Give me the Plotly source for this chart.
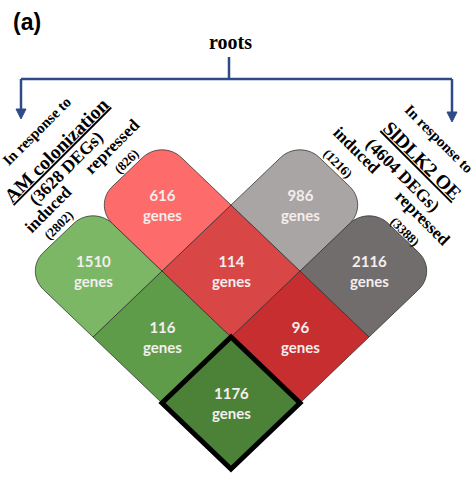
import numpy as np
import plotly.graph_objects as go

# Gene counts for the two responses in roots
am_groups = ["induced", "repressed"]          # AM colonization
am_totals = [2802, 826]
oe_groups = ["repressed", "induced"]          # SlDLK2 overexpression
oe_totals = [3388, 1216]
am_only = [1510, 616]                         # per AM group
oe_only = [2116, 986]                         # per OE group
shared = [[1176, 116],                        # AM induced  x OE (repressed, induced)
          [96, 114]]                          # AM repressed x OE (repressed, induced)

# colours of each tile, keyed by (AM row, OE column); index 2 = only one response
tile_colors = {
    (0, 2): "#7bb765", (0, 1): "#5f9c4a", (0, 0): "#4c8237",
    (1, 2): "#fe6b6b", (1, 1): "#d84646", (1, 0): "#c62e2f",
    (2, 1): "#a9a5a4", (2, 0): "#716d6d",
}

# diamond grid: bottom vertex of the lower tile and half-diagonals in pixels
X0, Y0, HX, HY = 231, 469, 69, 66
RADIUS = 0.28  # rounding of the strip ends, in tile units


def to_xy(u, v):
    return X0 + HX * (u - v), Y0 - HY * (u + v)


def tile_path(a, b, rounded):
    corners = [(a, b), (a + 1, b), (a + 1, b + 1), (a, b + 1)]
    pts = []
    n = len(corners)
    for i, p in enumerate(corners):
        p = np.array(p, float)
        if tuple(corners[i]) in rounded:
            prv = np.array(corners[i - 1], float)
            nxt = np.array(corners[(i + 1) % n], float)
            d1 = (p - prv) / np.linalg.norm(p - prv)
            d2 = (nxt - p) / np.linalg.norm(nxt - p)
            c = p - RADIUS * d1 + RADIUS * d2
            for t in np.linspace(0, np.pi / 2, 14):
                q = c + RADIUS * (-d2 * np.cos(t) + d1 * np.sin(t))
                pts.append(to_xy(*q))
        else:
            pts.append(to_xy(*p))
    return "M " + " L ".join(f"{x:.2f},{y:.2f}" for x, y in pts) + " Z"


tiles = []
for a in range(2):
    for b in range(2):
        tiles.append((a, b, shared[a][b], set()))
    tiles.append((a, 2, am_only[a], {(a, 3), (a + 1, 3)}))
for b in range(2):
    tiles.append((2, b, oe_only[b], {(3, b), (3, b + 1)}))

fig = go.Figure()
shapes = []
annotations = []

for a, b, n, rounded in tiles:
    shapes.append(dict(type="path", path=tile_path(a, b, rounded), xref="x", yref="y",
                       fillcolor=tile_colors[(a, b)],
                       line=dict(color="rgba(45,45,45,0.75)", width=1), layer="below"))
    cx, cy = to_xy(a + 0.5, b + 0.5)
    annotations.append(dict(x=cx, y=cy, xref="x", yref="y", showarrow=False,
                            text=f"<b>{n}<br>genes</b>", align="center",
                            font=dict(family="Lato", size=15, color="#f4eeee")))

# tile shared by AM-induced and OE-repressed genes is outlined
shapes.append(dict(type="path", path=tile_path(0, 0, set()), xref="x", yref="y",
                   line=dict(color="black", width=5), fillcolor="rgba(0,0,0,0)"))

# "roots" bracket with arrows to both responses
navy = "#2f4b87"
shapes += [
    dict(type="path", path="M 229,57 L 229,79 M 21,79 L 452,79 M 21,79 L 21,111 M 452,79 L 452,114",
         xref="x", yref="y", line=dict(color=navy, width=2.5)),
    dict(type="path", path="M 16,109 L 26,109 L 21,119 Z", xref="x", yref="y",
         fillcolor=navy, line=dict(color=navy, width=1)),
    dict(type="path", path="M 447,112 L 457,112 L 452,122 Z", xref="x", yref="y",
         fillcolor=navy, line=dict(color=navy, width=1)),
]

serif = "Liberation Serif"
labels = [
    ("roots", 230, 42, 20, 0),
    ("In response to", 37, 131, 15, -45),
    ("<u>AM colonization</u>", 56, 150, 19.5, -45),
    (f"({sum(am_totals)} DEGs)", 66, 168, 17.5, -45),
    (am_groups[1], 112, 146, 17, -45),
    (f"({am_totals[1]})", 126, 161, 13, -45),
    (am_groups[0], 48, 209, 17, -45),
    (f"({am_totals[0]})", 58, 225, 13, -45),
    ("In response to", 439, 139, 15, 45),
    ("<u>SlDLK2 OE</u>", 422, 160, 19.5, 45),
    (f"({sum(oe_totals)} DEGs)", 403, 175, 17.5, 45),
    (oe_groups[1], 357, 150, 17, 45),
    (f"({oe_totals[1]})", 338, 163, 13, 45),
    (oe_groups[0], 423, 218, 17, 45),
    (f"({oe_totals[0]})", 405, 231, 13, 45),
]
for text, x, y, size, ang in labels:
    annotations.append(dict(x=x, y=y, xref="x", yref="y", showarrow=False,
                            text=f"<b>{text}</b>", textangle=ang,
                            xanchor="center", yanchor="middle",
                            font=dict(family=serif, size=size, color="black")))

annotations.append(dict(x=27, y=22, xref="x", yref="y", showarrow=False,
                        text="<b>(a)</b>", font=dict(family="Liberation Sans", size=23, color="black")))

fig.update_layout(
    width=476, height=477, autosize=False,
    margin=dict(l=0, r=0, t=0, b=0),
    paper_bgcolor="white", plot_bgcolor="white",
    shapes=shapes, annotations=annotations, showlegend=False,
    xaxis=dict(range=[0, 476], visible=False, fixedrange=True),
    yaxis=dict(range=[477, 0], visible=False, fixedrange=True),
)

fig.write_html("out.html")
